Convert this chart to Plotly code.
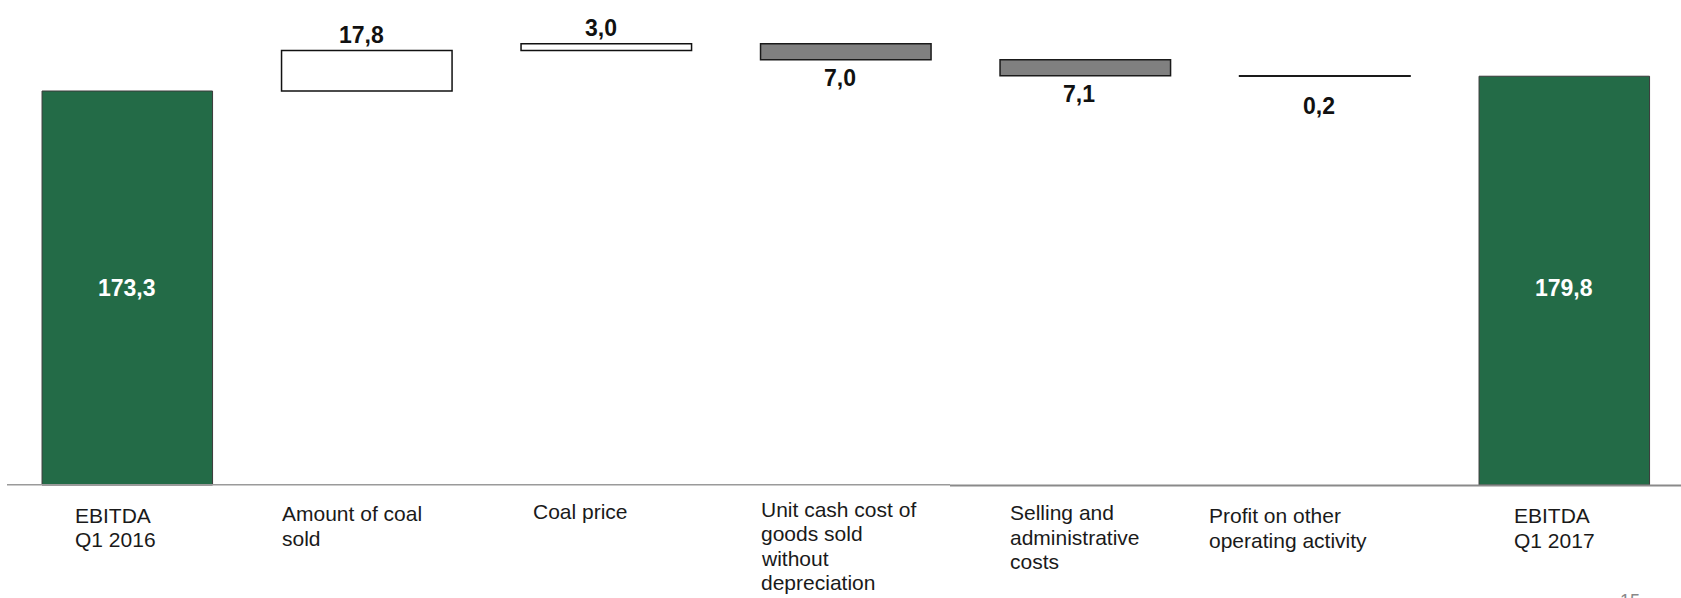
import plotly.graph_objects as go

# ---------------- data ----------------
categories = [
    "EBITDA<br>Q1 2016",
    "Amount of coal<br>sold",
    "Coal price",
    "Unit cash cost of<br>goods sold<br>without<br>depreciation",
    "Selling and<br>administrative<br>costs",
    "Profit on other<br>operating activity",
    "EBITDA<br>Q1 2017",
]
measures = ["absolute", "relative", "relative", "relative", "relative", "relative", "total"]
values = [173.3, 17.8, 3.0, -7.0, -7.1, -0.2, 179.8]
page_number = "15"

# ---------------- layout constants ----------------
W, H = 1681, 598
BAR_W = 0.712
PX_PER_CAT = 239.5
FIRST_CENTER_PX = 127.3
ZERO_PX = 485.0
PX_PER_UNIT = 2.2735
FONT = "Liberation Sans, Arial, sans-serif"

x0 = -FIRST_CENTER_PX / PX_PER_CAT
x1 = x0 + W / PX_PER_CAT
ymax = ZERO_PX / PX_PER_UNIT
ymin = -(H - ZERO_PX) / PX_PER_UNIT

xs = list(range(len(categories)))

fig = go.Figure(go.Waterfall(
    x=xs, y=values, measure=measures, width=BAR_W,
    increasing=dict(marker=dict(color="white", line=dict(color="#111111", width=1.5))),
    decreasing=dict(marker=dict(color="#808080", line=dict(color="#1a1a1a", width=1.5))),
    totals=dict(marker=dict(color="#236B47", line=dict(color="#3a3a3a", width=1))),
    connector=dict(visible=False),
    textposition="none",
    hoverinfo="skip",
))

def fmt(v):
    return f"{abs(v):.1f}".replace(".", ",")

annotations = []
# value labels
cum = 0.0
totals_vals = []
for i, (m, v) in enumerate(zip(measures, values)):
    if m == "absolute":
        cum = v
        totals_vals.append((i, v))
    elif m == "total":
        totals_vals.append((i, cum))
    else:
        end = cum + v
        extra = 12 if abs(v) < 0.5 else 0
        if v >= 0:
            annotations.append(dict(x=i, y=end, xref="x", yref="y", text=f"<b>{fmt(v)}</b>",
                                    showarrow=False, yanchor="bottom", xshift=-5, yshift=1,
                                    font=dict(family=FONT, size=23, color="#111111")))
        else:
            annotations.append(dict(x=i, y=end, xref="x", yref="y", text=f"<b>{fmt(v)}</b>",
                                    showarrow=False, yanchor="top", xshift=-6, yshift=-3 - extra,
                                    font=dict(family=FONT, size=23, color="#111111")))
        cum = end

inside_y = min(t for _, t in totals_vals) / 2
for i, t in totals_vals:
    annotations.append(dict(x=i, y=inside_y, xref="x", yref="y", text=f"<b>{fmt(t)}</b>",
                            showarrow=False, yanchor="middle",
                            font=dict(family=FONT, size=23, color="white")))

# category labels (left aligned, one annotation per line)
label_xshift = [33, 0, 12, 0, 10, -31, 35]
label_first_py = [515, 513.5, 511, 509, 512.5, 515.5, 515.5]
LINE_PX = 24.5
for i, cat in enumerate(categories):
    for j, line in enumerate(cat.split("<br>")):
        py = label_first_py[i] + j * LINE_PX
        annotations.append(dict(x=i - BAR_W / 2, y=1 - py / H, xref="x", yref="paper",
                                text=line, showarrow=False, xanchor="left", yanchor="middle",
                                xshift=label_xshift[i] - 2, align="left",
                                font=dict(family=FONT, size=21, color="#1a1a1a")))

# page number (cut off at the bottom edge, as in the original slide)
annotations.append(dict(x=1630 / W, y=1 - 589 / H, xref="paper", yref="paper", text=page_number,
                        showarrow=False, xanchor="center", yanchor="top",
                        font=dict(family=FONT, size=18, color="#888888")))

shapes = [
    dict(type="line", xref="paper", yref="paper", x0=7 / W, x1=950 / W,
         y0=1 - 484.8 / H, y1=1 - 484.8 / H, line=dict(color="#9a9a9a", width=1.5)),
    dict(type="line", xref="paper", yref="paper", x0=950 / W, x1=1.0,
         y0=1 - 485.5 / H, y1=1 - 485.5 / H, line=dict(color="#8a8a8a", width=2)),
]

fig.update_layout(
    width=W, height=H, autosize=False,
    margin=dict(l=0, r=0, t=0, b=0, pad=0),
    paper_bgcolor="white", plot_bgcolor="white",
    showlegend=False,
    xaxis=dict(visible=False, range=[x0, x1], fixedrange=True),
    yaxis=dict(visible=False, range=[ymin, ymax], fixedrange=True),
    annotations=annotations,
    shapes=shapes,
)

fig.write_html("out.html")
